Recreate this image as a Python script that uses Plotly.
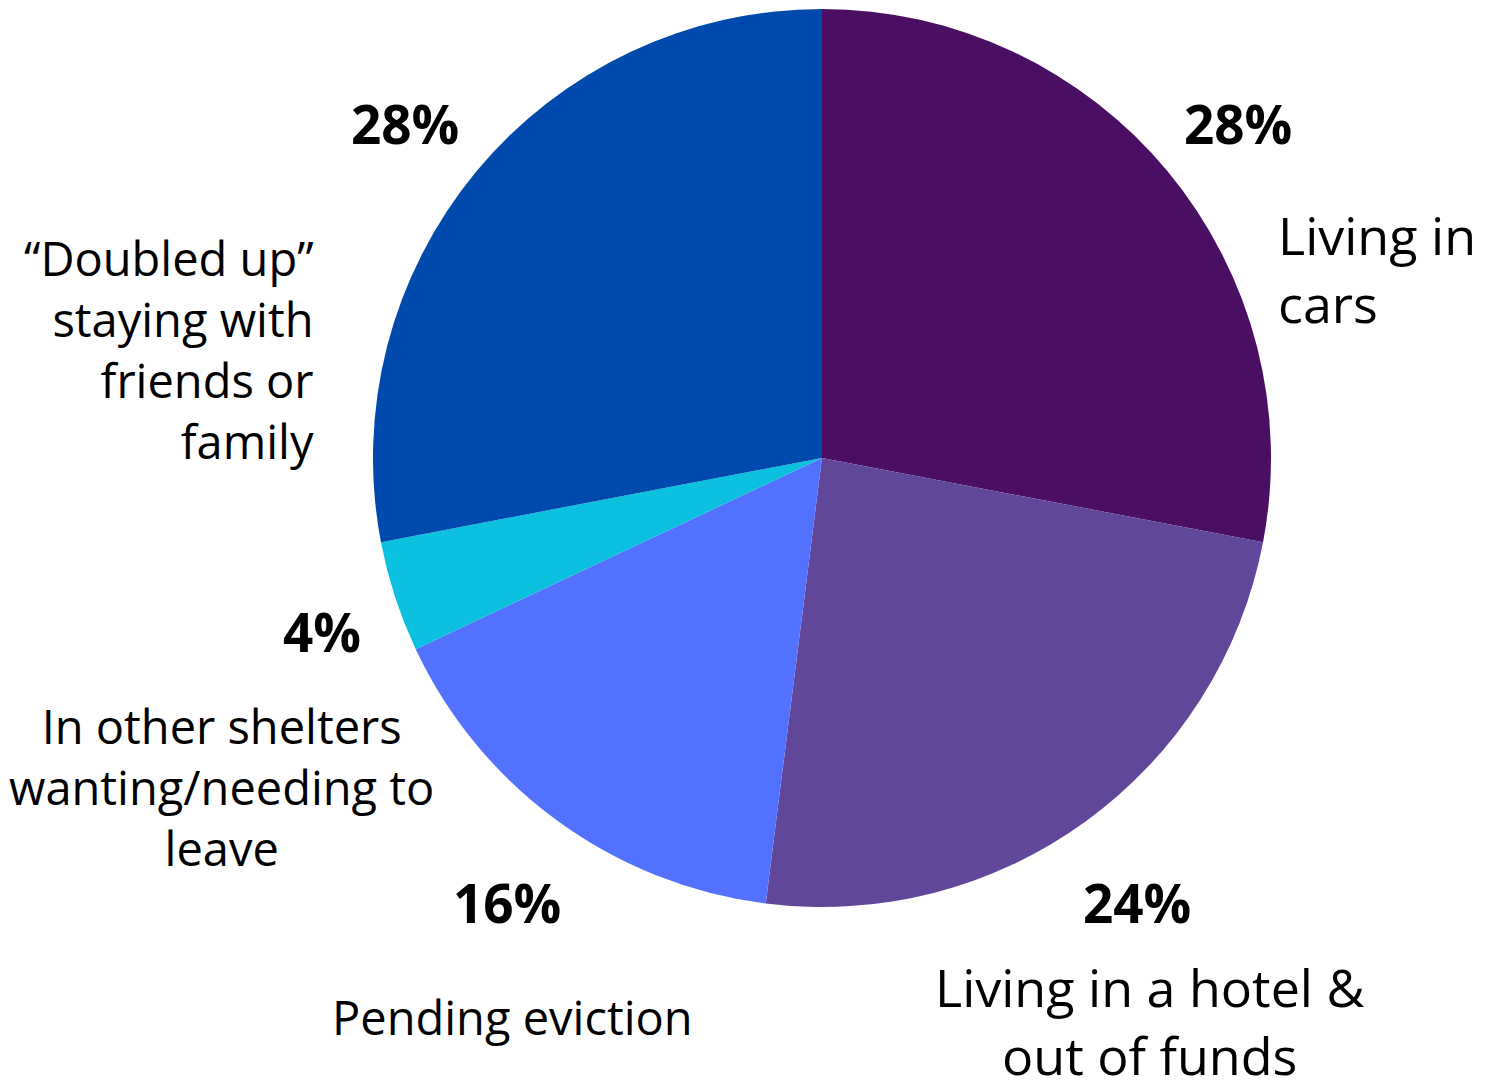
import plotly.graph_objects as go

categories = ["Living in cars", "Living in a hotel & out of funds", "Pending eviction",
              "In other shelters wanting/needing to leave", "\u201cDoubled up\u201d staying with friends or family"]
values = [28, 24, 16, 4, 28]
pct_labels = ["28%", "24%", "16%", "4%", "28%"]
label_lines = ["Living in<br>cars", "Living in a hotel &<br>out of funds", "Pending eviction",
               "In other shelters<br>wanting/needing to<br>leave",
               "\u201cDoubled up\u201d<br>staying with<br>friends or<br>family"]
colors = ["#4a0f63", "#614799", "#5271ff", "#0cc0df", "#004aad"]

W, H = 1493, 1081
OFF = 8  # page body margin
cx, cy, r = 822 - OFF, 458 - OFF, 449

fig = go.Figure(go.Pie(
    labels=categories, values=values, sort=False, direction="clockwise", rotation=0,
    marker=dict(colors=colors, line=dict(width=0)), textinfo="none", hoverinfo="label+percent",
    showlegend=False,
    domain=dict(x=[(cx - r) / W, (cx + r) / W], y=[1 - (cy + r) / H, 1 - (cy - r) / H]),
))

FONT = "Open Sans"
TY = 3  # text vertical nudge
pct_pos = [(1238, 127), (1137, 905), (507, 905), (322, 634), (405, 127)]
lab_pos = [(1276, 271, "left", "left", 52), (1149, 1023, "center", "center", 52),
           (512, 1020, "center", "center", 47), (221, 790, "center", "center", 47),
           (316, 353, "right", "right", 47)]

anns = []
for (px, py), t in zip(pct_pos, pct_labels):
    anns.append(dict(x=(px - OFF) / W, y=1 - (py - OFF - TY) / H, xref="paper", yref="paper",
                     text="<b>" + t + "</b>", showarrow=False, xanchor="center", yanchor="middle",
                     font=dict(family=FONT, size=53, color="black")))
for (px, py, xa, al, sz), t in zip(lab_pos, label_lines):
    anns.append(dict(x=(px - OFF) / W, y=1 - (py - OFF - TY) / H, xref="paper", yref="paper", text=t,
                     showarrow=False, xanchor=xa, yanchor="middle", align=al,
                     font=dict(family=FONT, size=sz, color="black")))

fig.update_layout(width=W, height=H, margin=dict(l=0, r=0, t=0, b=0),
                  paper_bgcolor="white", plot_bgcolor="white", annotations=anns)
fig.write_html("out.html")
